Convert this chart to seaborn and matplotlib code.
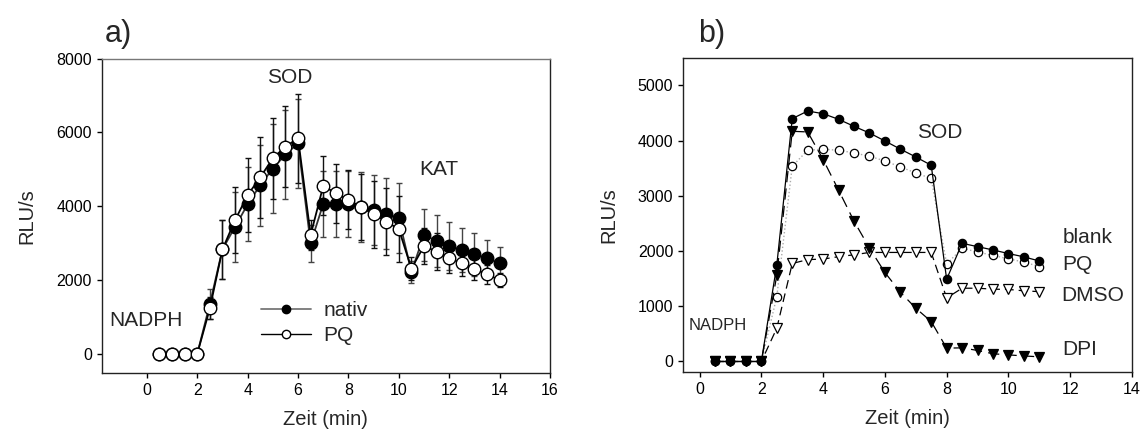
import numpy as np
import pandas as pd
import matplotlib
matplotlib.use("Agg")
import matplotlib.pyplot as plt
import seaborn as sns
from matplotlib.lines import Line2D

# ---------------- data: panel a ----------------
time_a = [0.5, 1.0, 1.5, 2.0, 2.5, 3.0, 3.5, 4.0, 4.5, 5.0, 5.5, 6.0, 6.5, 7.0,
          7.5, 8.0, 8.5, 9.0, 9.5, 10.0, 10.5, 11.0, 11.5, 12.0, 12.5, 13.0, 13.5, 14.0]
nativ = [0, 0, 0, 0, 1350, 2830, 3440, 4050, 4570, 5020, 5400, 5700, 2990, 4060,
         4060, 4060, 3980, 3890, 3800, 3670, 2220, 3220, 3060, 2920, 2810, 2700, 2590, 2450]
nativ_err = [0, 0, 0, 0, 400, 800, 950, 1000, 1100, 1200, 1200, 1200, 500, 900,
             900, 900, 950, 950, 950, 950, 300, 700, 700, 650, 600, 580, 500, 450]
pq_a = [0, 0, 0, 0, 1230, 2830, 3620, 4300, 4780, 5300, 5610, 5840, 3220, 4550,
        4350, 4170, 3980, 3780, 3580, 3380, 2310, 2920, 2770, 2590, 2450, 2300, 2150, 2000]
pq_a_err = [0, 0, 0, 0, 300, 800, 900, 1000, 1100, 1100, 1100, 1200, 400, 800,
            800, 800, 900, 900, 900, 900, 300, 500, 500, 400, 350, 300, 250, 200]

# ---------------- data: panel b ----------------
time_b = [0.5, 1.0, 1.5, 2.0, 2.5, 3.0, 3.5, 4.0, 4.5, 5.0, 5.5, 6.0, 6.5, 7.0,
          7.5, 8.0, 8.5, 9.0, 9.5, 10.0, 10.5, 11.0]
blank = [0, 0, 0, 0, 1748, 4398, 4536, 4488, 4386, 4259, 4138, 3994, 3846, 3704,
         3554, 1490, 2140, 2080, 2020, 1955, 1895, 1820]
pq_b = [0, 0, 0, 0, 1175, 3536, 3826, 3844, 3826, 3777, 3717, 3632, 3524, 3415,
        3314, 1766, 2049, 1985, 1920, 1860, 1800, 1720]
dmso = [0, 0, 0, 0, 603, 1775, 1845, 1855, 1898, 1932, 1975, 1975, 1975, 1975,
        1975, 1150, 1327, 1327, 1310, 1305, 1280, 1265]
dpi = [0, 0, 0, 0, 1560, 4169, 4157, 3657, 3103, 2542, 2055, 1612, 1256, 965,
       723, 242, 247, 200, 140, 120, 100, 85]

xticks_a = [0, 2, 4, 6, 8, 10, 12, 14, 16]
yticks_a = [0, 2000, 4000, 6000, 8000]
xticks_b = [0, 2, 4, 6, 8, 10, 12, 14]
yticks_b = [0, 1000, 2000, 3000, 4000, 5000]

sns.set_theme(style="ticks")
plt.rcParams["font.family"] = ["Liberation Sans", "DejaVu Sans"]
plt.rcParams["axes.linewidth"] = 1.0
plt.rcParams["xtick.major.size"] = 3.5
plt.rcParams["ytick.major.size"] = 3.5
plt.rcParams["xtick.direction"] = "out"
plt.rcParams["ytick.direction"] = "out"

fig = plt.figure(figsize=(11.42, 4.41), dpi=100)
ax1 = fig.add_axes([0.0889, 0.1542, 0.3927, 0.7131])
ax2 = fig.add_axes([0.5980, 0.1565, 0.3932, 0.7112])

TICK_FS = 11.5
LAB_FS = 14.5
ANN_FS = 15

# ---------- panel a ----------
df_a = pd.DataFrame({"t": time_a + time_a,
                     "v": nativ + pq_a,
                     "grp": ["nativ"] * len(time_a) + ["PQ"] * len(time_a)})
ax1.errorbar(time_a, nativ, yerr=nativ_err, fmt="none", ecolor="#444444",
             elinewidth=1.0, capsize=2.5, capthick=1.0, zorder=1)
ax1.errorbar(time_a, pq_a, yerr=pq_a_err, fmt="none", ecolor="#111111",
             elinewidth=1.0, capsize=2.5, capthick=1.0, zorder=1)
sns.lineplot(data=df_a[df_a.grp == "nativ"], x="t", y="v", ax=ax1, color="#333333",
             lw=1.3, marker="o", markersize=9, markerfacecolor="black",
             markeredgecolor="black", markeredgewidth=1.0, zorder=2, legend=False)
sns.lineplot(data=df_a[df_a.grp == "PQ"], x="t", y="v", ax=ax1, color="black",
             lw=1.3, marker="o", markersize=9, markerfacecolor="white",
             markeredgecolor="black", markeredgewidth=1.0, zorder=3, legend=False)

ax1.set_xlim(-1.8, 16)
ax1.set_ylim(-520, 8000)
ax1.set_xticks(xticks_a)
ax1.set_yticks(yticks_a)
ax1.tick_params(labelsize=TICK_FS, colors="black", width=1.0)
ax1.set_xlabel("Zeit (min)", fontsize=LAB_FS, labelpad=9)
ax1.set_ylabel("RLU/s", fontsize=LAB_FS, labelpad=14)
for s in ax1.spines.values():
    s.set_color("#222222")
ax1.spines["top"].set_color("#777777")

ax1.text(-1.5, 900, "NADPH", fontsize=ANN_FS, va="center", ha="left")
ax1.text(4.75, 7480, "SOD", fontsize=ANN_FS, va="center", ha="left")
ax1.text(10.8, 5000, "KAT", fontsize=ANN_FS, va="center", ha="left")

h1 = Line2D([], [], color="#777777", lw=1.3, marker="o", markersize=6,
            markerfacecolor="black", markeredgecolor="black")
h2 = Line2D([], [], color="black", lw=1.0, marker="o", markersize=6,
            markerfacecolor="white", markeredgecolor="black")
ax1.legend([h1, h2], ["nativ", "PQ"], loc="center left", bbox_to_anchor=(0.355, 0.159),
           frameon=False, fontsize=ANN_FS, handlelength=2.4, handletextpad=0.6,
           labelspacing=0.3, borderpad=0, borderaxespad=0)

# ---------- panel b ----------
series_b = [
    ("PQ", pq_b, dict(color="#aaaaaa", lw=1.0, linestyle=":", marker="o", markersize=6,
                      markerfacecolor="white", markeredgecolor="black", markeredgewidth=0.9)),
    ("DMSO", dmso, dict(color="black", lw=0.9, linestyle=(0, (7, 4)), marker="v", markersize=6.5,
                        markerfacecolor="white", markeredgecolor="black", markeredgewidth=0.9)),
    ("DPI", dpi, dict(color="black", lw=0.9, linestyle=(0, (9, 5)), marker="v", markersize=6.5,
                      markerfacecolor="black", markeredgecolor="black", markeredgewidth=0.9)),
    ("blank", blank, dict(color="black", lw=0.9, linestyle="-", marker="o", markersize=6,
                          markerfacecolor="black", markeredgecolor="black", markeredgewidth=0.9)),
]
for i, (name, vals, kw) in enumerate(series_b):
    d = pd.DataFrame({"t": time_b, "v": vals})
    sns.lineplot(data=d, x="t", y="v", ax=ax2, legend=False, zorder=2 + i, **kw)

ax2.set_xlim(-0.54, 14)
ax2.set_ylim(-190, 5490)
ax2.set_xticks(xticks_b)
ax2.set_yticks(yticks_b)
ax2.tick_params(labelsize=TICK_FS, colors="black", width=1.0)
ax2.set_xlabel("Zeit (min)", fontsize=LAB_FS, labelpad=9)
ax2.set_ylabel("RLU/s", fontsize=LAB_FS, labelpad=14)
for s in ax2.spines.values():
    s.set_color("#222222")

ax2.text(-0.35, 650, "NADPH", fontsize=12, va="center", ha="left")
ax2.text(7.05, 4150, "SOD", fontsize=ANN_FS, va="center", ha="left")
ax2.text(11.75, 2240, "blank", fontsize=ANN_FS, va="center", ha="left")
ax2.text(11.75, 1750, "PQ", fontsize=ANN_FS, va="center", ha="left")
ax2.text(11.7, 1190, "DMSO", fontsize=ANN_FS, va="center", ha="left")
ax2.text(11.75, 215, "DPI", fontsize=ANN_FS, va="center", ha="left")

fig.text(0.092, 0.905, "a)", fontsize=22, va="baseline", ha="left")
fig.text(0.611, 0.905, "b)", fontsize=22, va="baseline", ha="left")

fig.savefig("out.png", dpi=100)
